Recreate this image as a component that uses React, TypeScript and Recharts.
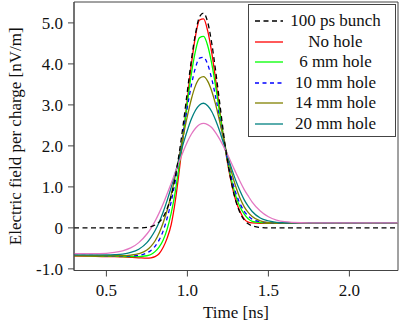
import React from "react"
import { LineChart, Line, XAxis, YAxis, Legend, ReferenceArea } from "recharts"

// time axis [ns], shared by all curves
const time = [
  0.3, 0.4, 0.5, 0.55, 0.6, 0.65, 0.7, 0.75, 0.775, 0.8, 0.825, 0.85, 0.875, 0.9, 0.925, 0.95, 0.975, 1.0, 1.025, 1.05, 1.075,
  1.1, 1.125, 1.15, 1.175, 1.2, 1.225, 1.25, 1.275, 1.3, 1.325, 1.35, 1.375, 1.4, 1.45, 1.5, 1.55, 1.6, 1.7, 1.8, 2.0, 2.3,
]

// electric field per charge [nV/m]
const bunch = [
  0, 0, 0, 0, 0, 0, 0, 0.01, 0.03, 0.07, 0.14, 0.26, 0.47, 0.78, 1.24, 1.84, 2.55, 3.34, 4.11, 4.74, 5.15,
  5.24, 5.02, 4.51, 3.81, 3.03, 2.25, 1.58, 1.04, 0.64, 0.37, 0.2, 0.1, 0.05, 0.01, 0, 0, 0, 0, 0, 0, 0,
]
const noHole = [
  -0.68, -0.69, -0.7, -0.7, -0.71, -0.72, -0.73, -0.74, -0.73, -0.7, -0.63, -0.48, -0.25, 0.08, 0.65, 1.4, 2.25, 3.15, 4.0, 4.68, 5.07,
  5.1, 4.81, 4.28, 3.6, 2.86, 2.15, 1.53, 1.04, 0.65, 0.4, 0.22, 0.14, 0.12, 0.11, 0.11, 0.11, 0.11, 0.11, 0.11, 0.11, 0.11,
]
const hole6 = [
  -0.67, -0.68, -0.69, -0.69, -0.7, -0.7, -0.7, -0.68, -0.65, -0.58, -0.47, -0.3, -0.03, 0.36, 0.88, 1.55, 2.29, 3.06, 3.77, 4.32, 4.64,
  4.67, 4.45, 4.01, 3.43, 2.79, 2.15, 1.58, 1.12, 0.76, 0.51, 0.34, 0.22, 0.16, 0.13, 0.12, 0.12, 0.12, 0.12, 0.12, 0.12, 0.12,
]
const hole10 = [
  -0.67, -0.67, -0.68, -0.68, -0.69, -0.685, -0.67, -0.61, -0.55, -0.45, -0.3, -0.08, 0.24, 0.64, 1.14, 1.72, 2.34, 2.95, 3.49, 3.91, 4.14,
  4.16, 3.99, 3.64, 3.18, 2.65, 2.11, 1.61, 1.18, 0.84, 0.59, 0.41, 0.29, 0.21, 0.15, 0.13, 0.12, 0.12, 0.12, 0.12, 0.12, 0.12,
]
const hole14 = [
  -0.68, -0.68, -0.68, -0.68, -0.68, -0.665, -0.63, -0.54, -0.45, -0.32, -0.13, 0.12, 0.43, 0.81, 1.26, 1.75, 2.25, 2.73, 3.15, 3.47, 3.65,
  3.69, 3.58, 3.34, 3.0, 2.58, 2.14, 1.71, 1.32, 0.99, 0.72, 0.52, 0.38, 0.28, 0.17, 0.13, 0.12, 0.12, 0.12, 0.12, 0.12, 0.12,
]
const hole20 = [
  -0.66, -0.66, -0.658, -0.653, -0.64, -0.6, -0.52, -0.36, -0.23, -0.07, 0.13, 0.38, 0.67, 0.99, 1.34, 1.7, 2.06, 2.38, 2.66, 2.87, 3.0,
  3.04, 2.98, 2.84, 2.62, 2.35, 2.04, 1.73, 1.42, 1.14, 0.9, 0.69, 0.53, 0.4, 0.24, 0.17, 0.135, 0.125, 0.12, 0.12, 0.12, 0.12,
]
// pink curve, no legend entry
const hole30 = [
  -0.63, -0.628, -0.62, -0.6, -0.56, -0.49, -0.36, -0.15, -0.01, 0.16, 0.36, 0.58, 0.83, 1.09, 1.35, 1.62, 1.87, 2.1, 2.29, 2.43, 2.52,
  2.55, 2.52, 2.45, 2.32, 2.16, 1.97, 1.77, 1.55, 1.34, 1.13, 0.94, 0.78, 0.63, 0.41, 0.27, 0.19, 0.15, 0.125, 0.12, 0.12, 0.12,
]

const xTicks = [0.5, 1.0, 1.5, 2.0]
const yTicks = [-1, 0, 1, 2, 3, 4, 5]

const font = "Liberation Serif"
const frame = "#444"

const series = [
  { key: "noHole", name: "No hole", values: noHole, color: "#ff0000", dash: undefined, legend: true },
  { key: "hole6", name: "6 mm hole", values: hole6, color: "#00ff00", dash: undefined, legend: true },
  { key: "hole10", name: "10 mm hole", values: hole10, color: "#0000ff", dash: "4 3.5", legend: true },
  { key: "hole14", name: "14 mm hole", values: hole14, color: "#808000", dash: undefined, legend: true },
  { key: "hole20", name: "20 mm hole", values: hole20, color: "#008080", dash: undefined, legend: true },
  { key: "hole30", name: "30 mm hole", values: hole30, color: "#e377c2", dash: undefined, legend: false },
  { key: "bunch", name: "100 ps bunch", values: bunch, color: "#000000", dash: "5 3.5", legend: true },
]

const legendOrder = ["bunch", "noHole", "hole6", "hole10", "hole14", "hole20"]

const data = time.map((t, i) => {
  const row: Record<string, number> = { t }
  series.forEach((s) => {
    row[s.key] = s.values[i]
  })
  return row
})

const renderLegend = () => (
  <div
    style={{
      border: `1px solid ${frame}`,
      background: "#fff",
      width: 148,
      height: 133,
      boxSizing: "border-box",
      paddingTop: 6,
      fontFamily: font,
      fontSize: 17,
      color: "#111",
    }}
  >
    {legendOrder.map((k) => {
      const s = series.find((x) => x.key === k)!
      return (
        <div key={k} style={{ display: "flex", alignItems: "center", height: 20.5, lineHeight: "20.5px" }}>
          <svg width={38} height={10} style={{ flex: "none" }}>
            <line x1={6} x2={34} y1={5} y2={5} stroke={s.color} strokeWidth={1.3} strokeDasharray={s.dash} />
          </svg>
          <span style={{ flex: 1, textAlign: "center", paddingRight: 11, whiteSpace: "nowrap" }}>{s.name}</span>
        </div>
      )
    })}
  </div>
)

const YLabel = (props: any) => {
  const vb = props.viewBox || {}
  const cy = (vb.y ?? 2) + (vb.height ?? 268) / 2
  return (
    <text x={20.5} y={cy} transform={`rotate(-90 20.5 ${cy})`} textAnchor="middle" fill="#111" style={{ fontFamily: font, fontSize: 17 }}>
      Electric field per charge [nV/m]
    </text>
  )
}

export default function App() {
  return (
    <div style={{ position: "absolute", left: 0, top: 0, background: "#fff", fontFamily: font }}>
      <LineChart width={399} height={329} data={data} margin={{ top: 2, right: 1, left: 0, bottom: 0 }} style={{ fontFamily: font }}>
        <XAxis
          dataKey="t"
          type="number"
          domain={[0.3, 2.3]}
          allowDataOverflow
          ticks={xTicks}
          tickFormatter={(v: number) => v.toFixed(1)}
          height={58.5}
          tickSize={6}
          tickMargin={7}
          axisLine={{ stroke: frame }}
          tickLine={{ stroke: frame }}
          tick={{ fill: "#111", fontSize: 17, style: { fontFamily: font } }}
          label={{ value: "Time [ns]", position: "insideBottom", offset: 11, fill: "#111", fontSize: 17, style: { fontFamily: font } }}
        />
        <YAxis
          type="number"
          domain={[-1.04, 5.51]}
          allowDataOverflow
          ticks={yTicks}
          tickFormatter={(v: number) => (v === 0 ? "0" : v.toFixed(1))}
          width={74}
          tickSize={6}
          tickMargin={5}
          axisLine={{ stroke: frame }}
          tickLine={{ stroke: frame }}
          tick={{ fill: "#111", fontSize: 17, style: { fontFamily: font } }}
          label={<YLabel />}
        />
        <ReferenceArea x1={0.3} x2={2.3} y1={-1.04} y2={5.51} fill="none" stroke={frame} strokeWidth={1} />
        {series.map((s) => (
          <Line
            key={s.key}
            type="monotone"
            dataKey={s.key}
            stroke={s.color}
            strokeWidth={1.3}
            strokeDasharray={s.dash}
            dot={false}
            activeDot={false}
            isAnimationActive={false}
            legendType="none"
          />
        ))}
        <Legend
          layout="vertical"
          align="center"
          verticalAlign="middle"
          content={renderLegend}
          wrapperStyle={{ left: 248, top: 4, width: 148 }}
        />
      </LineChart>
    </div>
  )
}
